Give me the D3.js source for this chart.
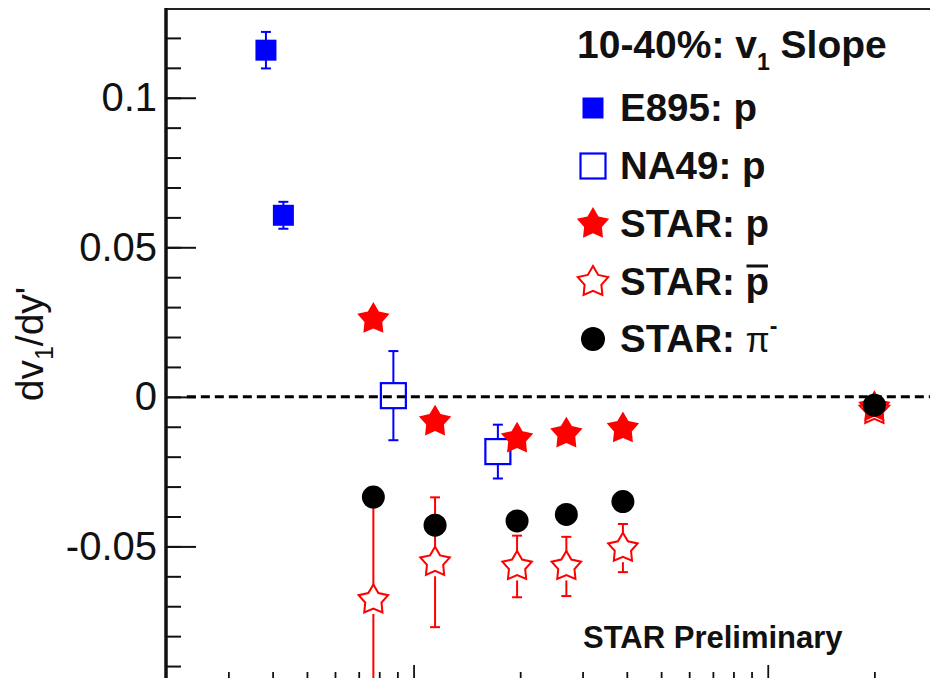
<!DOCTYPE html>
<html>
<head>
<meta charset="utf-8">
<script src="https://cdn.jsdelivr.net/npm/d3@7"></script>
<style>
  body { margin: 0; background: #fff; }
  text { font-family: "Liberation Sans", Arial, Helvetica, sans-serif; }
</style>
</head>
<body>
<svg id="chart" width="930" height="678"></svg>
<script>
// sqrt(s_NN) in GeV and v1 slope values
const e895Energy = [3.83, 4.29];
const e895Slope = [0.1159, 0.0607];
const e895Err = [0.0061, 0.0045];

const na49Energy = [8.77, 17.3];
const na49Slope = [0.0004, -0.0183];
const na49Err = [0.0149, 0.009];

const starEnergy = [7.7, 11.5, 19.6, 27, 39, 200];
const starProton = [0.026, -0.0083, -0.014, -0.0123, -0.0106, -0.0035];
const starProtonErr = [0.002, 0.0015, 0.001, 0.001, 0.001, 0.0005];
const starAntiproton = [-0.0679, -0.0553, -0.0567, -0.0567, -0.0506, -0.0045];
const starAntiprotonErrHi = [0.0344, 0.0217, 0.0103, 0.0099, 0.0081, 0.002];
const starAntiprotonErrLo = [0.0344, 0.0217, 0.0103, 0.0099, 0.008, 0.002];
const starPion = [-0.0335, -0.0429, -0.0415, -0.0393, -0.035, -0.0028];

const yMajorTicks = [-0.05, 0, 0.05, 0.1];
const yMajorLabels = ["-0.05", "0", "0.05", "0.1"];
const yMinorTicks = d3.range(-9, 13).map(d => d / 100);
const xMajorTicks = [10, 100];
const xMinorTicks = [3, 4, 5, 6, 7, 8, 9, 20, 30, 40, 50, 60, 70, 80, 90, 200, 300];

const legendTitle = "10-40%: v";
const legendEntries = ["E895: p", "NA49: p", "STAR: p", "STAR: ", "STAR: "];

const svg = d3.select("#chart");
const padLeft = 166, padTop = 9, padBottom = 684, padRight = 981;

const x = d3.scaleLog().domain([2, 400]).range([padLeft, padRight]);
const y = d3.scaleLinear().domain([-0.096, 0.13]).range([padBottom, 8]);

// frame
svg.append("rect")
  .attr("x", padLeft).attr("y", padTop)
  .attr("width", padRight - padLeft).attr("height", padBottom - padTop)
  .attr("fill", "none").attr("stroke", "#222").attr("stroke-width", 2);

// y axis, ticks pointing inward
const yMinor = svg.append("g").attr("transform", "translate(" + padLeft + ",0)")
  .call(d3.axisLeft(y).tickValues(yMinorTicks).tickSize(-15).tickFormat(""));
const yMajor = svg.append("g").attr("transform", "translate(" + padLeft + ",0)")
  .call(d3.axisLeft(y).tickValues(yMajorTicks).tickSize(-30).tickPadding(9)
    .tickFormat((d, i) => yMajorLabels[i]));
[yMinor, yMajor].forEach(g => {
  g.select(".domain").remove();
  g.selectAll("line").attr("stroke", "#111").attr("stroke-width", 2);
});
yMajor.selectAll("text")
  .attr("font-size", 40).attr("fill", "#111")
  .attr("font-family", "'Liberation Sans', Arial, sans-serif");

svg.append("line")
  .attr("x1", padLeft).attr("x2", padLeft).attr("y1", padTop - 1).attr("y2", 678)
  .attr("stroke", "#111").attr("stroke-width", 3.5);

// x axis (labels sit below the visible area)
const xMinor = svg.append("g").attr("transform", "translate(0," + padBottom + ")")
  .call(d3.axisBottom(x).tickValues(xMinorTicks).tickSize(-12).tickFormat(""));
const xMajor = svg.append("g").attr("transform", "translate(0," + padBottom + ")")
  .call(d3.axisBottom(x).tickValues(xMajorTicks).tickSize(-19).tickFormat(""));
[xMinor, xMajor].forEach(g => {
  g.select(".domain").remove();
  g.selectAll("line").attr("stroke", "#111").attr("stroke-width", 1.8);
});

// y label
const ylab = svg.append("text")
  .attr("transform", "translate(43,344) rotate(-90)")
  .attr("text-anchor", "middle")
  .attr("font-size", 39).attr("fill", "#111");
ylab.append("tspan").text("dv");
ylab.append("tspan").attr("font-size", 25).attr("dy", 10).text("1");
ylab.append("tspan").attr("dy", -10).text("/dy'");

// zero line
svg.append("line")
  .attr("x1", x(2.29)).attr("x2", 930)
  .attr("y1", y(0)).attr("y2", y(0))
  .attr("stroke", "#000").attr("stroke-width", 3)
  .attr("stroke-dasharray", "9,5");

// marker shapes
function starPath(r, ratio) {
  const pts = d3.range(10).map(i => {
    const rr = i % 2 === 0 ? r : r * ratio;
    const a = i * Math.PI / 5;
    return [rr * Math.sin(a), -rr * Math.cos(a)];
  });
  return "M" + pts.map(p => p.join(",")).join("L") + "Z";
}

function errorBar(g, xv, yv, lo, hi, color, gap, cap) {
  const cx = x(xv), cy = y(yv);
  const yTop = y(yv + hi), yBot = y(yv - lo);
  if (cy - gap > yTop) {
    g.append("line").attr("x1", cx).attr("x2", cx).attr("y1", cy - gap).attr("y2", yTop)
      .attr("stroke", color).attr("stroke-width", 2);
    g.append("line").attr("x1", cx - cap).attr("x2", cx + cap).attr("y1", yTop).attr("y2", yTop)
      .attr("stroke", color).attr("stroke-width", 2);
  }
  if (cy + gap < yBot) {
    g.append("line").attr("x1", cx).attr("x2", cx).attr("y1", cy + gap).attr("y2", yBot)
      .attr("stroke", color).attr("stroke-width", 2);
    g.append("line").attr("x1", cx - cap).attr("x2", cx + cap).attr("y1", yBot).attr("y2", yBot)
      .attr("stroke", color).attr("stroke-width", 2);
  }
}

const bars = svg.append("g");
e895Energy.forEach((e, i) => errorBar(bars, e, e895Slope[i], e895Err[i], e895Err[i], "#0000ff", 10, 5));
na49Energy.forEach((e, i) => errorBar(bars, e, na49Slope[i], na49Err[i], na49Err[i], "#0000ff", 13, 5));
starEnergy.forEach((e, i) => errorBar(bars, e, starAntiproton[i], starAntiprotonErrLo[i], starAntiprotonErrHi[i], "#ff0000", 14, 5));

const marks = svg.append("g");

marks.selectAll(".e895").data(e895Energy).enter().append("rect")
  .attr("x", d => x(d) - 10.5).attr("y", (d, i) => y(e895Slope[i]) - 10.5)
  .attr("width", 21).attr("height", 21).attr("fill", "#0000ff");

marks.selectAll(".na49").data(na49Energy).enter().append("rect")
  .attr("x", d => x(d) - 12.5).attr("y", (d, i) => y(na49Slope[i]) - 12.5)
  .attr("width", 25).attr("height", 25)
  .attr("fill", "none").attr("stroke", "#0000ff").attr("stroke-width", 2.2);

marks.selectAll(".pbar").data(starEnergy).enter().append("path")
  .attr("d", starPath(15.5, 0.55))
  .attr("transform", (d, i) => "translate(" + x(d) + "," + y(starAntiproton[i]) + ")")
  .attr("fill", "none").attr("stroke", "#ff0000").attr("stroke-width", 2);

marks.selectAll(".prot").data(starEnergy).enter().append("path")
  .attr("d", starPath(17, 0.55))
  .attr("transform", (d, i) => "translate(" + x(d) + "," + y(starProton[i]) + ")")
  .attr("fill", "#ff0000");

marks.selectAll(".pion").data(starEnergy).enter().append("circle")
  .attr("cx", d => x(d)).attr("cy", (d, i) => y(starPion[i]))
  .attr("r", 11.5).attr("fill", "#000");

// legend
const lg = svg.append("g");
const title = lg.append("text").attr("x", 577).attr("y", 58)
  .attr("font-size", 39).attr("font-weight", "bold").attr("fill", "#111");
title.append("tspan").text(legendTitle);
title.append("tspan").attr("font-size", 23).attr("dy", 12).text("1");
title.append("tspan").attr("dy", -12).text(" Slope");

const rowY = [108, 166, 224, 282, 339];
const textX = 620, markX = 593;

lg.append("rect").attr("x", markX - 10.5).attr("y", rowY[0] - 10.5)
  .attr("width", 21).attr("height", 21).attr("fill", "#0000ff");
lg.append("rect").attr("x", markX - 12.5).attr("y", rowY[1] - 12.5)
  .attr("width", 25).attr("height", 25)
  .attr("fill", "none").attr("stroke", "#0000ff").attr("stroke-width", 2.2);
lg.append("path").attr("d", starPath(17, 0.55))
  .attr("transform", "translate(" + markX + "," + rowY[2] + ")").attr("fill", "#ff0000");
lg.append("path").attr("d", starPath(16, 0.55))
  .attr("transform", "translate(" + markX + "," + rowY[3] + ")")
  .attr("fill", "none").attr("stroke", "#ff0000").attr("stroke-width", 2);
lg.append("circle").attr("cx", markX).attr("cy", rowY[4]).attr("r", 12).attr("fill", "#000");

const entryTexts = legendEntries.map((t, i) =>
  lg.append("text").attr("x", textX).attr("y", rowY[i] + 13)
    .attr("font-size", 38.5).attr("font-weight", "bold").attr("fill", "#111").text(t));

// antiproton: p with a bar over it
const pbarText = entryTexts[3];
pbarText.append("tspan").text("p");
const pbNode = pbarText.node();
const pbStart = pbNode.getSubStringLength(0, 6);
const pbWidth = pbNode.getSubStringLength(6, 1);
lg.append("line")
  .attr("x1", textX + pbStart + 1).attr("x2", textX + pbStart + pbWidth - 1)
  .attr("y1", rowY[3] - 16).attr("y2", rowY[3] - 16)
  .attr("stroke", "#111").attr("stroke-width", 3);

// pion: pi with superscript minus
const piText = entryTexts[4];
piText.append("tspan").attr("font-weight", "normal").attr("font-size", 35).text("π");
piText.append("tspan").attr("font-size", 23).attr("dy", -18).text("-");

svg.append("text").attr("x", 583).attr("y", 648)
  .attr("font-size", 31).attr("font-weight", "bold").attr("fill", "#111")
  .text("STAR Preliminary");
</script>
</body>
</html>
